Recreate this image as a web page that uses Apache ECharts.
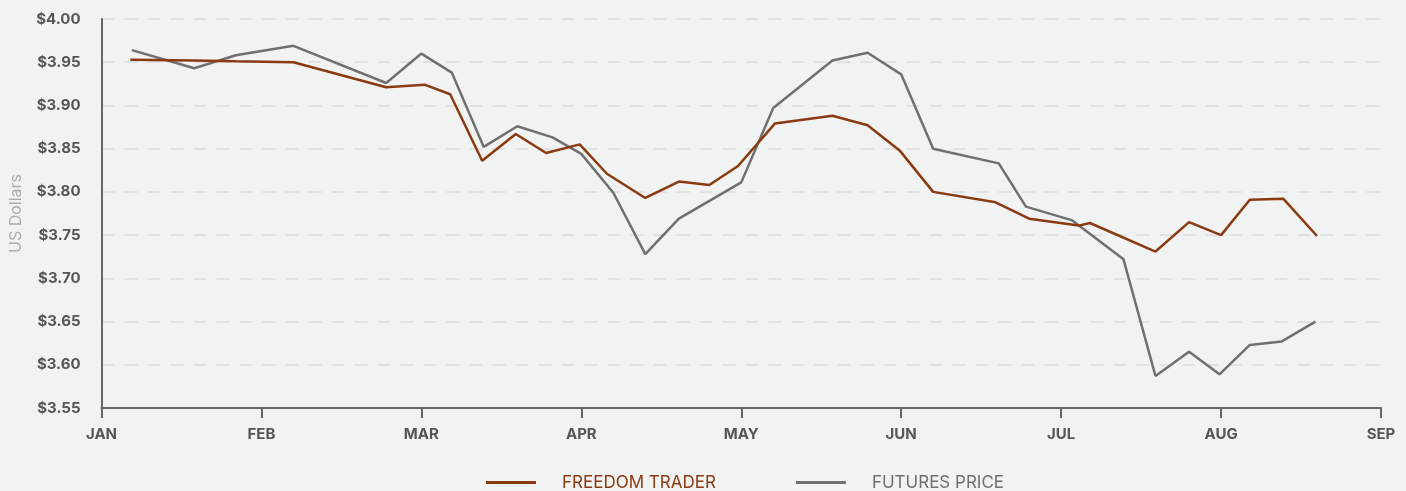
<!DOCTYPE html>
<html>
<head>
<meta charset="utf-8">
<script src="https://cdn.jsdelivr.net/npm/echarts@6/dist/echarts.min.js"></script>
<style>
html,body{margin:0;padding:0;background:#f1f2f2;}
#chart{width:1406px;height:491px;}
</style>
</head>
<body>
<div id="chart"></div>
<script>
// Month tick labels (x axis in month units: 0 = JAN ... 8 = SEP)
var monthLabels = ['JAN','FEB','MAR','APR','MAY','JUN','JUL','AUG','SEP'];
var yTicks = [3.55,3.60,3.65,3.70,3.75,3.80,3.85,3.90,3.95,4.00];

// FREEDOM TRADER: position (months since Jan 1) and price
var freedomX = [0.18,0.58,0.84,1.20,1.78,2.02,2.18,2.38,2.59,2.78,2.99,3.16,3.40,3.61,3.80,3.98,4.21,4.57,4.79,4.99,5.20,5.59,5.80,6.11,6.18,6.59,6.80,7.00,7.18,7.39,7.60];
var freedomY = [3.953,3.952,3.951,3.950,3.921,3.924,3.913,3.836,3.867,3.845,3.855,3.821,3.793,3.812,3.808,3.830,3.879,3.888,3.877,3.848,3.800,3.788,3.769,3.761,3.764,3.731,3.765,3.750,3.791,3.792,3.749];

// FUTURES PRICE
var futuresX = [0.19,0.58,0.84,1.20,1.78,2.00,2.19,2.39,2.60,2.82,3.00,3.20,3.40,3.61,4.00,4.20,4.57,4.79,5.00,5.20,5.61,5.78,6.07,6.39,6.59,6.80,6.99,7.18,7.38,7.59];
var futuresY = [3.964,3.943,3.958,3.969,3.926,3.960,3.938,3.852,3.876,3.863,3.844,3.799,3.728,3.769,3.811,3.897,3.952,3.961,3.936,3.850,3.833,3.783,3.767,3.722,3.587,3.615,3.589,3.623,3.627,3.650];

function pairs(xs, ys){ return xs.map(function(x,i){ return [x, ys[i]]; }); }

var FONT = 'Inter';
var chart = echarts.init(document.getElementById('chart'));
chart.setOption({
  backgroundColor: '#f1f2f2',
  animation: false,
  grid: { left: 101.5, right: 25, top: 19, bottom: 83, containLabel: false },
  legend: {
    top: 469,
    left: 481,
    itemWidth: 50,
    itemHeight: 3,
    itemGap: 80,
    icon: 'rect',
    textStyle: { fontFamily: FONT, fontSize: 17, padding: [0,0,0,21] },
    data: [
      { name: 'FREEDOM TRADER', textStyle: { color: '#8a3a10' } },
      { name: 'FUTURES PRICE', textStyle: { color: '#707070' } }
    ]
  },
  xAxis: {
    type: 'value',
    min: 0, max: 8, interval: 1,
    axisLine: { show: true, lineStyle: { color: '#666', width: 2 } },
    axisTick: { show: true, length: 10, lineStyle: { color: '#666', width: 2 } },
    splitLine: { show: false },
    axisLabel: {
      margin: 19,
      color: '#555',
      fontFamily: FONT,
      fontWeight: 'bold',
      fontSize: 15,
      formatter: function(v){ return monthLabels[Math.round(v)] || ''; }
    }
  },
  yAxis: {
    type: 'value',
    min: yTicks[0], max: yTicks[yTicks.length-1], interval: 0.05,
    name: 'US Dollars',
    nameLocation: 'middle',
    nameGap: 77,
    nameTextStyle: { color: '#adadad', fontFamily: FONT, fontSize: 16 },
    axisLine: { show: true, lineStyle: { color: '#666', width: 2 } },
    axisTick: { show: false },
    splitLine: { show: true, lineStyle: { color: '#dcdcdc', width: 1.5, type: [13,10] } },
    axisLabel: {
      margin: 21,
      color: '#555',
      fontFamily: FONT,
      fontWeight: 'bold',
      fontSize: 15,
      formatter: function(v){ return '$' + v.toFixed(2); }
    }
  },
  series: [
    {
      name: 'FREEDOM TRADER', type: 'line', showSymbol: false, symbol: 'none',
      data: pairs(freedomX, freedomY),
      lineStyle: { color: '#8a3a10', width: 2.5 },
      itemStyle: { color: '#8a3a10' },
      z: 3
    },
    {
      name: 'FUTURES PRICE', type: 'line', showSymbol: false, symbol: 'none',
      data: pairs(futuresX, futuresY),
      lineStyle: { color: '#707070', width: 2.5 },
      itemStyle: { color: '#707070' },
      z: 2
    }
  ]
});
</script>
</body>
</html>
